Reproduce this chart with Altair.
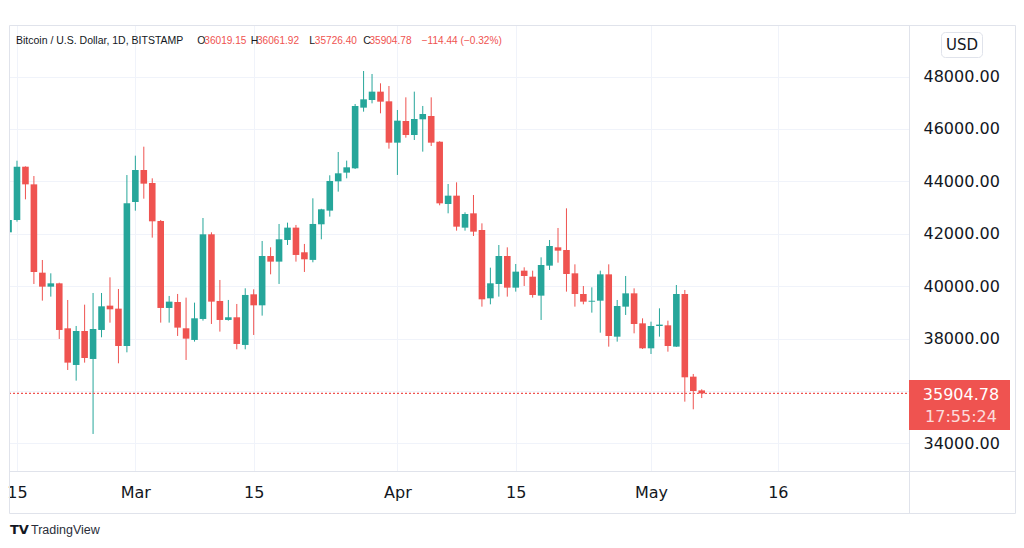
import altair as alt
import pandas as pd

# ---------------- data ----------------
dates = pd.date_range("2022-02-14", "2022-05-07", freq="D").strftime("%Y-%m-%d").tolist()

opens = [42053, 42523, 44558, 43884, 40513, 39979, 40106, 38389, 36990, 38287,
         37219, 38326, 39254, 39140, 37715, 43210, 44431, 43936, 42486, 39166,
         39394, 38390, 37945, 38746, 41977, 39433, 38708, 38810, 37754, 39687,
         39267, 41150, 40934, 41761, 42232, 41291, 41000, 42359, 42881, 44000,
         44331, 44496, 46811, 47104, 47422, 47053, 45475, 46302, 45768, 46366,
         46493, 45511, 43134, 43452, 42231, 42778, 42142, 39534, 40081, 41150,
         39941, 40590, 40360, 39636, 40781, 41480, 41378, 40488, 39699, 39406,
         39444, 40449, 38070, 39216, 39724, 38579, 37626, 38478, 38503, 37690,
         39699, 36544, 36019.15]
highs = [42540, 44787, 44570, 44202, 40997, 40488, 40130, 39470, 38478, 39292,
         39737, 39737, 40335, 39890, 44240, 44978, 45322, 44114, 42524, 39624,
         39700, 39560, 39369, 42600, 42053, 40234, 39471, 39318, 39916, 39878,
         41722, 41481, 42371, 42422, 42334, 41609, 43351, 42950, 44229, 45119,
         44789, 46951, 48210, 48096, 47740, 47638, 46722, 47205, 47422, 46875,
         47205, 45530, 43897, 43961, 42816, 43477, 42396, 40704, 41569, 41480,
         40844, 40717, 40590, 41099, 41760, 42218, 42969, 40831, 40004, 39953,
         40589, 40831, 39470, 40386, 39915, 38770, 38643, 39152, 38681, 40042,
         39852, 36646, 36061.92]
lows = [42040, 42460, 43312, 40081, 39445, 39598, 37982, 36799, 36392, 37079,
        34357, 38046, 38605, 37054, 37473, 42879, 43337, 41850, 38606, 38606,
        38097, 37181, 37881, 38682, 38555, 38263, 38682, 37588, 37588, 38135,
        38873, 40450, 40082, 41570, 40934, 40540, 40909, 41787, 42652, 43606,
        44114, 44470, 46658, 46976, 46595, 45246, 44242, 45666, 45577, 45132,
        45348, 43084, 42778, 42116, 42116, 41913, 39216, 39305, 39598, 39598,
        39789, 40005, 39560, 38707, 40615, 40895, 39789, 39216, 39305, 38987,
        38223, 37689, 37880, 38898, 38198, 37600, 37409, 38071, 37498, 37680,
        35590, 35298, 35726.40]
closes = [42523, 44558, 43884, 40539, 39979, 40106, 38326, 37079, 38287, 37257,
          38364, 39229, 39114, 37715, 43159, 44431, 43910, 42473, 39166, 39407,
          38415, 37995, 38771, 41977, 39407, 38708, 38810, 37792, 39662, 39267,
          41150, 40934, 41786, 42232, 41189, 41023, 42372, 42931, 44013, 44305,
          44534, 46875, 47129, 47422, 47040, 45475, 46315, 45768, 46379, 46569,
          45475, 43159, 43452, 42269, 42752, 42078, 39496, 40107, 41150, 39941,
          40552, 40386, 39661, 40806, 41531, 41353, 40463, 39699, 39406, 39440,
          40449, 38096, 39241, 39724, 38554, 37626, 38478, 38530, 37715, 39699,
          36519, 35997, 35904.78]

y_ticks = [34000, 36000, 38000, 40000, 42000, 44000, 46000, 48000]
hidden_y_label = 36000
x_ticks = [(2022, 2, 15), (2022, 3, 1), (2022, 3, 15), (2022, 4, 1),
           (2022, 4, 15), (2022, 5, 1), (2022, 5, 16)]

header_title = "Bitcoin / U.S. Dollar, 1D, BITSTAMP"
ohlc_letters = ["O", "H", "L", "C"]
ohlc_values = ["36019.15", "36061.92", "35726.40", "35904.78"]
change_text = "\u2212114.44 (\u22120.32%)"
countdown = "17:55:24"
currency = "USD"

# ---------------- styling ----------------
GREEN = "#26A69A"
RED = "#EF5350"
GRID = "#F0F3FA"
BORDER = "#E0E3EB"
TEXT = "#131722"
FONT = "DejaVu Sans"

df = pd.DataFrame({"date": dates, "open": opens, "high": highs,
                   "low": lows, "close": closes})
df["dir"] = ["up" if c >= o else "down" for o, c in zip(opens, closes)]
last = df.tail(1)
dummy = pd.DataFrame({"k": [0]})

DAY = 86400000
base = int(pd.Timestamp("2022-02-15", tz="UTC").value // 10**6)
x_scale = alt.Scale(type="utc", domain=[base - 0.946 * DAY, base + 105.52 * DAY],
                    padding=0, nice=False)
y_scale = alt.Scale(domain=[32943, 49966], nice=False, zero=False, padding=0)

x_axis = alt.Axis(
    values=[alt.DateTime(year=y, month=m, date=d, utc=True) for y, m, d in x_ticks],
    labelExpr="utcdate(datum.value) == 1 ? utcFormat(datum.value, '%b') : utcFormat(datum.value, '%d')",
    grid=True, gridColor=GRID, ticks=False, tickSize=0, domain=False,
    labelPadding=21, labelBaseline="middle", labelFontSize=16, labelFont=FONT,
    labelColor=TEXT, labelFlush=False, labelOverlap=False, title=None)
y_axis = alt.Axis(
    orient="right", values=y_ticks,
    labelExpr=f"datum.value == {hidden_y_label} ? '' : format(datum.value, '.2f')",
    grid=True, gridColor=GRID,
    ticks=False, tickSize=0, domain=False, labelPadding=14, labelFontSize=16,
    labelFont=FONT, labelColor=TEXT, labelOverlap=False, title=None)

X = alt.X("date:T", scale=x_scale, axis=x_axis, title=None)
color = alt.Color("dir:N", scale=alt.Scale(domain=["up", "down"], range=[GREEN, RED]),
                  legend=None)

wicks = alt.Chart(df).mark_rule(strokeWidth=1, clip=True).encode(
    x=X, y=alt.Y("low:Q", scale=y_scale, axis=y_axis, title=None),
    y2="high:Q", color=color)
bodies = alt.Chart(df).mark_bar(width=6.6, clip=True).encode(
    x=X, y=alt.Y("open:Q", scale=y_scale, axis=y_axis, title=None),
    y2="close:Q", color=color)

price_line = alt.Chart(last).mark_rule(color=RED, strokeDash=[2, 2], strokeWidth=1.2).encode(
    y=alt.Y("close:Q", scale=y_scale, axis=y_axis, title=None),
    x=alt.value(0), x2=alt.value(900))

# frame
frame = alt.Chart(dummy).mark_rect(fill="transparent", stroke=BORDER, strokeWidth=1).encode(
    x=alt.value(0.5), x2=alt.value(1006.5), y=alt.value(0.5), y2=alt.value(488.5))
sep_v = alt.Chart(dummy).mark_rule(color=BORDER, strokeWidth=1).encode(
    x=alt.value(900.5), y=alt.value(0), y2=alt.value(488))
sep_h = alt.Chart(dummy).mark_rule(color=BORDER, strokeWidth=1).encode(
    y=alt.value(446.5), x=alt.value(0), x2=alt.value(1006))

price_box = alt.Chart(last).mark_rect(color=RED, yOffset=-13.4, y2Offset=36.6).encode(
    x=alt.value(900), x2=alt.value(1001),
    y=alt.Y("close:Q", scale=y_scale, axis=y_axis, title=None), y2="close:Q")
price_text = alt.Chart(last).mark_text(
    color="white", fontSize=16, font=FONT, align="center", baseline="middle", yOffset=1.6
).encode(x=alt.value(952), y=alt.Y("close:Q", scale=y_scale, axis=y_axis, title=None),
         text=alt.Text("close:Q", format=".2f"))
count_text = alt.Chart(last).mark_text(
    color="white", opacity=0.8, fontSize=16, font=FONT, align="center", baseline="middle",
    yOffset=23.3
).encode(x=alt.value(952), y=alt.Y("close:Q", scale=y_scale, axis=y_axis, title=None),
         text=alt.value(countdown))

usd_box = alt.Chart(dummy).mark_rect(fill="white", stroke=BORDER, strokeWidth=1,
                                     cornerRadius=4).encode(
    x=alt.value(932.5), x2=alt.value(973.5), y=alt.value(7.5), y2=alt.value(32.5))
usd_text = alt.Chart(dummy).mark_text(fontSize=15, font=FONT, color=TEXT,
                                      align="center", baseline="middle").encode(
    x=alt.value(953), y=alt.value(20), text=alt.value(currency))


def label(txt, x, y, color=TEXT, size=10.5, font="Liberation Sans", weight="normal"):
    return alt.Chart(dummy).mark_text(
        fontSize=size, font=font, color=color, align="left", baseline="middle",
        fontWeight=weight
    ).encode(x=alt.value(x), y=alt.value(y), text=alt.value(txt))


header = [label(header_title, 7, 15.7)]
letter_x = [188.3, 241.7, 300.3, 354.3]
value_x = [195.3, 248.0, 305.8, 360.4]
for lt, lx, vv, vx in zip(ohlc_letters, letter_x, ohlc_values, value_x):
    header.append(label(lt, lx, 15.7))
    header.append(label(vv, vx, 15.7, color=RED, size=10.1))
header.append(label(change_text, 412.7, 15.7, color=RED, size=10.1))

logo = [label("TV", 1, 505, size=13, font=FONT, weight="bold"),
        label("TradingView", 22, 505, color="#2A2E39", size=12.5)]

chart = alt.layer(
    wicks, bodies, price_line, frame, sep_v, sep_h, price_box, price_text, count_text,
    usd_box, usd_text, *header, *logo
).properties(
    width=900, height=446,
    autosize=alt.AutoSizeParams(type="none"),
    padding={"left": 1, "top": 17, "right": 107, "bottom": 69},
    background="white",
).configure_view(stroke=None)

chart.save("out.html", embed_options={"renderer": "svg", "actions": False})
